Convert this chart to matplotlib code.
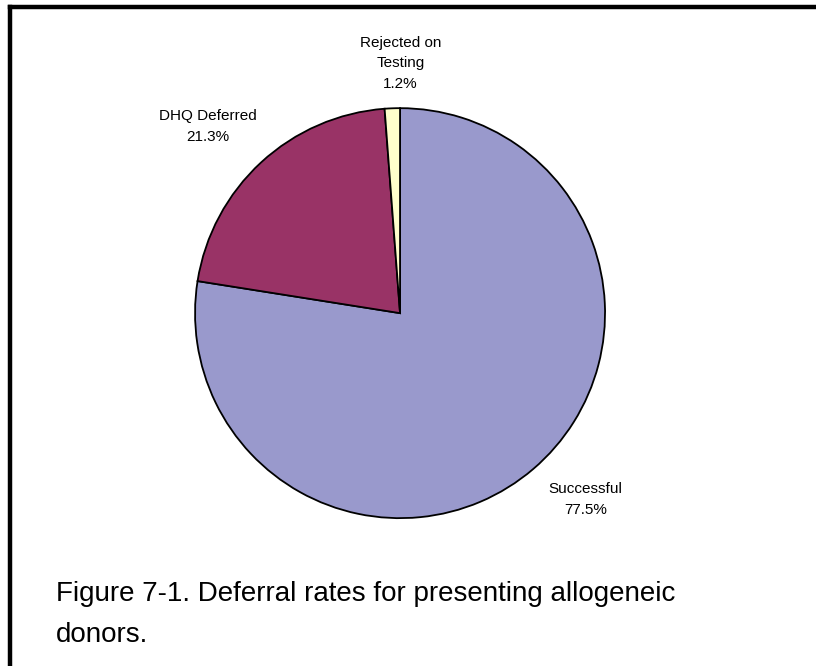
import numpy as np
import matplotlib.pyplot as plt
from matplotlib.lines import Line2D

labels = ['Successful', 'DHQ Deferred', 'Rejected on\nTesting']
values = [77.5, 21.3, 1.2]
colors = ['#9999CC', '#993366', '#FFFFCC']
# nudge of each label from its radial spot, in pixels
label_nudge = [(23, 4), (-23, 3), (10, 0)]

fig = plt.figure(figsize=(8.16, 6.66), dpi=100)
ax = fig.add_axes([0.239, 0.222, 0.5025, 0.6156])

wedges, _ = ax.pie(values, colors=colors, startangle=90, counterclock=False,
                   wedgeprops=dict(edgecolor='black', linewidth=1.3))
ax.set_xlim(-1, 1)
ax.set_ylim(-1, 1)
ax.set_aspect('equal')

for w, lab, val, nd in zip(wedges, labels, values, label_nudge):
    ang = np.deg2rad((w.theta1 + w.theta2) / 2)
    ax.annotate(f'{lab}\n{val:.1f}%', xy=(1.22 * np.cos(ang), 1.22 * np.sin(ang)),
                xytext=nd, textcoords='offset pixels',
                ha='center', va='center', fontsize=11, linespacing=1.6,
                family=['Liberation Sans', 'DejaVu Sans'], annotation_clip=False)

fig.text(0.069, 0.077, 'Figure 7-1. Deferral rates for presenting allogeneic\ndonors.',
         ha='left', va='center', fontsize=20, linespacing=1.75,
         family=['Liberation Sans', 'DejaVu Sans'])

# frame lines along top and left edge
fig.add_artist(Line2D([0.0117, 1.0], [0.9895, 0.9895], color='black', lw=3.2,
                      transform=fig.transFigure, solid_capstyle='projecting'))
fig.add_artist(Line2D([0.0117, 0.0117], [0.0, 0.9895], color='black', lw=3.2,
                      transform=fig.transFigure, solid_capstyle='projecting'))

fig.savefig('out.png', dpi=100)
